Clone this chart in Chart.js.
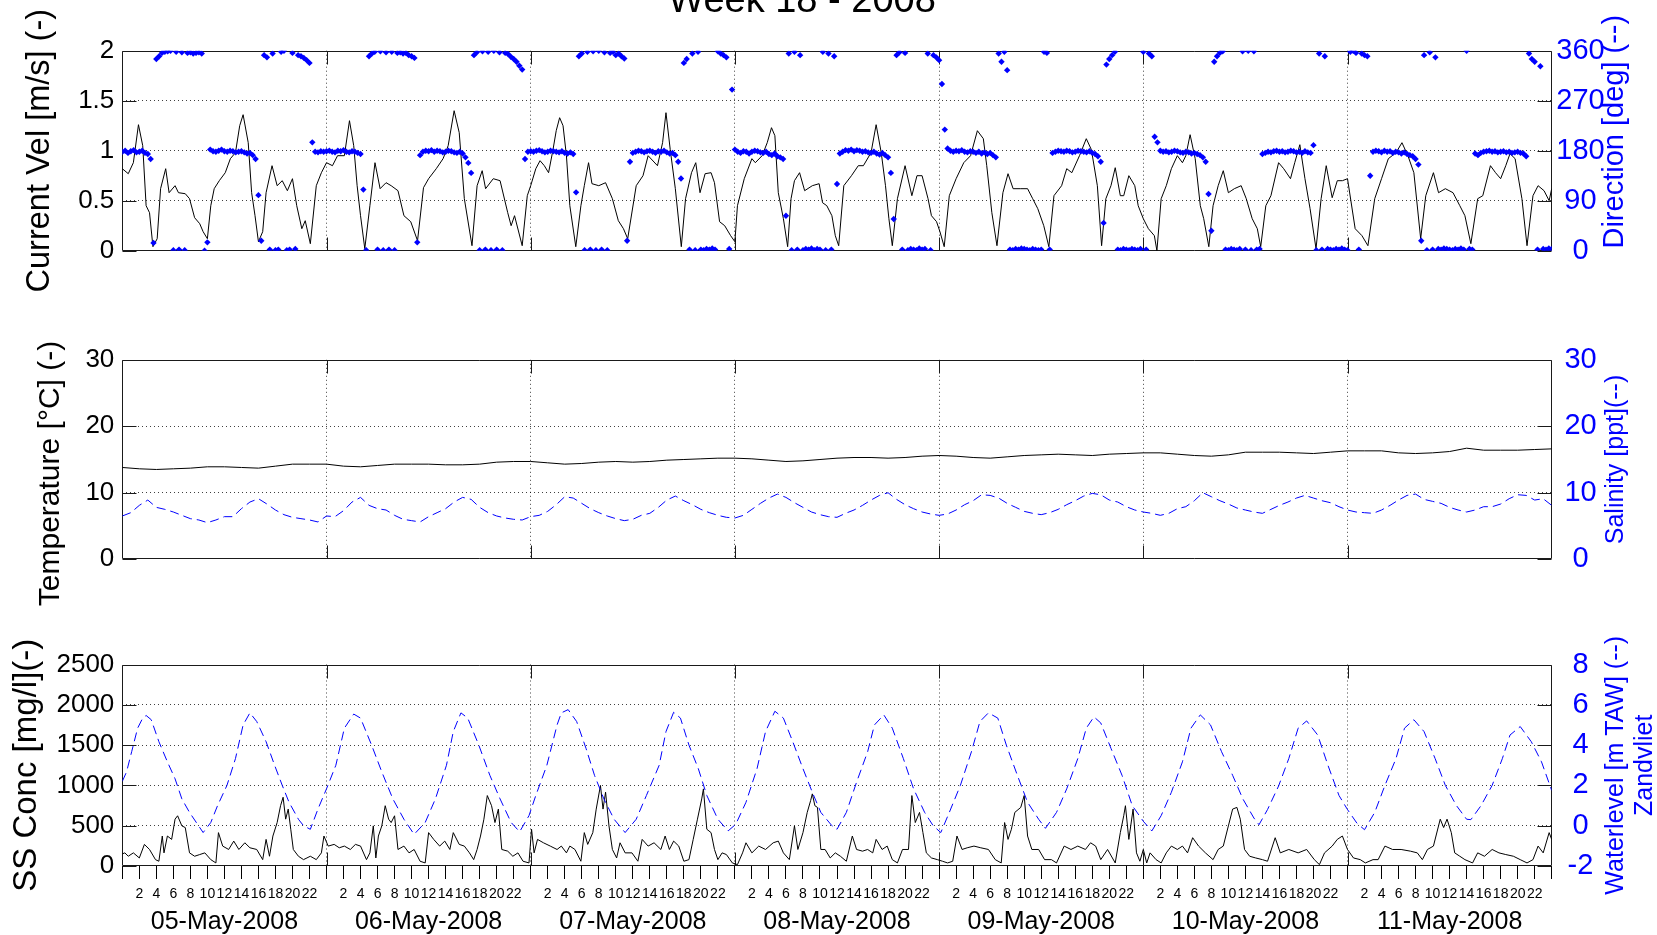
<!DOCTYPE html>
<html lang="en">
<head>
<meta charset="UTF-8">
<title>Week 18 - 2008</title>
<script src="https://cdn.jsdelivr.net/npm/chart.js"></script>
<style>
  html, body { margin: 0; padding: 0; background: #fff; overflow: hidden; }
  body { width: 1657px; height: 935px; position: relative; }
  canvas { position: absolute; left: 0; }
</style>
</head>
<body>
<canvas id="velChart" width="1657" height="305" style="top:0px"></canvas>
<canvas id="tempChart" width="1657" height="305" style="top:305px"></canvas>
<canvas id="ssChart" width="1657" height="325" style="top:610px"></canvas>
<script>
// ---- data (hours since 05-May-2008 00:00) ----
const dateLabels = ['05-May-2008', '06-May-2008', '07-May-2008', '08-May-2008', '09-May-2008', '10-May-2008', '11-May-2008'];
const dateTickHours = [12, 36, 60, 84, 108, 132, 156];
const dayBoundaries = [24, 48, 72, 96, 120, 144];

// current velocity [m/s], [hour, value]
const currentVel = [
  [0,0.82],[0.7,0.77],[1.3,0.88],[1.9,1.26],[2.4,1.05],[2.8,0.45],[3.2,0.38],[3.6,0.04],[4.1,0.12],[4.5,0.62],[5.1,0.82],[5.5,0.58],[6.2,0.65],[6.6,0.58],[7.4,0.57],[7.9,0.52],[8.5,0.33],[9.1,0.27],[9.5,0.19],[10.0,0.12],[10.4,0.45],[10.8,0.62],[11.4,0.70],[12.1,0.78],[12.7,0.92],[13.3,0.98],[13.8,1.25],[14.2,1.36],[14.8,1.08],[15.2,0.58],[15.6,0.35],[16.0,0.09],[16.5,0.19],[16.9,0.58],[17.6,0.85],[18.2,0.65],[18.8,0.70],[19.4,0.60],[20.0,0.72],[20.5,0.45],[21.1,0.22],[21.5,0.30],[22.1,0.07],[22.8,0.65],[23.4,0.78],
  [24.0,0.88],[24.7,0.85],[25.3,0.95],[26.1,0.95],[26.7,1.30],[27.2,1.05],[27.6,0.65],[28.0,0.35],[28.5,0.02],[29.1,0.45],[29.7,0.88],[30.3,0.62],[31.0,0.68],[31.6,0.65],[32.4,0.60],[33.1,0.35],[33.9,0.29],[34.7,0.10],[35.4,0.63],[36.0,0.72],[36.9,0.82],[37.7,0.92],[38.3,1.05],[39.0,1.40],[39.6,1.18],[40.2,0.52],[41.1,0.05],[41.7,0.65],[42.3,0.80],[42.7,0.62],[43.6,0.72],[44.4,0.70],[45.3,0.38],[45.7,0.25],[46.1,0.35],[47.0,0.05],[47.6,0.55],
  [48.0,0.65],[48.6,0.82],[49.1,0.90],[49.6,0.85],[50.1,0.78],[50.6,1.00],[51.0,1.20],[51.4,1.33],[51.8,1.25],[52.2,0.95],[52.6,0.45],[53.3,0.04],[53.9,0.45],[54.3,0.65],[54.8,0.88],[55.2,0.67],[56.0,0.65],[56.8,0.68],[57.6,0.52],[58.3,0.30],[58.9,0.22],[59.4,0.12],[60.4,0.65],[61.2,0.75],[61.8,0.95],[62.9,0.85],[63.5,1.08],[63.9,1.38],[64.4,1.01],[65.0,0.62],[65.7,0.04],[66.2,0.52],[66.9,0.78],[67.4,0.88],[67.9,0.58],[68.5,0.77],[69.2,0.78],[69.6,0.68],[70.2,0.29],[70.8,0.25],[71.5,0.15],
  [72.0,0.09],[72.3,0.45],[73.1,0.72],[74.0,0.92],[74.4,0.88],[75.2,0.95],[75.8,1.08],[76.3,1.23],[76.7,1.15],[77.1,0.58],[77.7,0.32],[78.2,0.04],[78.6,0.52],[79.0,0.70],[79.6,0.78],[80.2,0.60],[81.1,0.65],[81.9,0.67],[82.3,0.48],[82.8,0.45],[83.4,0.35],[83.8,0.15],[84.2,0.05],[84.8,0.65],[85.7,0.75],[86.5,0.85],[87.1,0.85],[88.0,0.98],[88.6,1.26],[89.2,0.98],[89.7,0.65],[90.1,0.32],[90.5,0.05],[91.1,0.52],[92.0,0.85],[92.8,0.55],[93.4,0.75],[94.0,0.75],[94.7,0.52],[95.1,0.35],[95.7,0.29],
  [96.1,0.19],[96.6,0.04],[97.2,0.55],[98.0,0.72],[98.9,0.88],[99.7,0.95],[100.5,1.20],[101.2,1.12],[101.6,0.85],[102.2,0.38],[102.8,0.05],[103.5,0.58],[104.1,0.77],[104.7,0.62],[105.6,0.62],[106.4,0.62],[107.0,0.52],[107.6,0.42],[108.3,0.25],[108.9,0.04],[109.5,0.55],[110.4,0.65],[111.0,0.82],[111.6,0.78],[112.5,0.95],[113.3,1.12],[113.9,1.01],[114.6,0.65],[115.1,0.05],[115.6,0.52],[116.2,0.65],[116.7,0.83],[117.3,0.55],[117.7,0.55],[118.3,0.75],[119.0,0.65],[119.4,0.45],
  [120.0,0.32],[120.6,0.22],[121.3,0.15],[121.6,0.0],[122.1,0.52],[122.7,0.65],[123.3,0.82],[124.0,0.95],[124.6,0.88],[125.0,0.95],[125.5,1.16],[126.1,0.92],[126.7,0.45],[127.1,0.32],[127.7,0.04],[128.2,0.45],[128.8,0.65],[129.4,0.80],[130.0,0.58],[130.7,0.62],[131.5,0.65],[132.1,0.52],[132.8,0.32],[133.4,0.22],[133.8,0.04],[134.4,0.45],[135.0,0.55],[135.9,0.88],[136.5,0.82],[137.3,0.72],[137.8,0.88],[138.4,1.06],[139.0,0.72],[139.6,0.42],[140.3,0.02],[140.9,0.52],[141.5,0.85],[142.2,0.53],[142.8,0.70],[143.4,0.70],
  [144.0,0.72],[144.9,0.22],[145.7,0.15],[146.4,0.05],[147.2,0.52],[148.0,0.72],[148.8,0.92],[149.7,0.98],[150.4,1.08],[151.1,0.95],[151.8,0.78],[152.6,0.12],[153.2,0.55],[154.1,0.78],[154.7,0.58],[155.5,0.62],[156.4,0.58],[157.2,0.45],[157.8,0.35],[158.5,0.07],[159.3,0.52],[159.9,0.55],[160.8,0.85],[161.4,0.78],[162.0,0.72],[162.6,0.85],[163.1,0.97],[163.7,0.92],[164.5,0.52],[165.1,0.05],[165.8,0.55],[166.4,0.65],[167.1,0.60],[167.7,0.50],[168.0,0.62]
];

// current direction [deg], one reading every 20 minutes
const dirStepHours = 1 / 3;
const dirDeg = [
  178,180,176,179,181,177,178,180,176,174,165,14,345,350,356,358,359,360,1,358,2,357,1,356,357,355,356,357,355,0,15,182,179,178,180,182,179,178,180,179,177,178,179,177,175,176,172,165,100,18,352,348,2,355,1,2,358,360,1,2,356,3,352,350,347,343,338,195,178,177,179,178,
  179,180,178,177,180,179,181,178,177,179,178,176,174,110,1,350,355,358,2,359,1,357,2,358,1,356,357,355,356,352,350,347,15,172,178,180,179,181,178,180,179,177,178,180,179,177,176,178,175,168,158,140,352,357,1,359,2,358,1,360,2,357,1,356,354,349,345,340,333,326,165,178,
  179,178,180,181,179,177,178,180,179,178,177,179,176,175,177,174,105,350,355,1,358,2,359,1,360,2,357,1,356,358,352,355,350,346,18,160,176,178,180,179,177,179,180,178,176,179,178,180,177,175,176,172,160,130,338,345,2,355,1,358,2,1,3,2,4,2,359,355,352,348,3,290,
  182,178,176,179,178,175,178,180,179,177,176,178,174,172,175,170,168,165,63,355,1,358,2,352,1,3,2,4,1,3,2,358,1,355,2,350,120,175,178,181,180,182,179,181,180,178,179,177,176,178,175,173,176,172,168,140,57,352,357,2,356,1,3,2,1,4,2,3,355,1,352,348,
  343,300,218,184,180,178,180,179,181,178,177,179,178,176,178,175,177,174,176,172,168,355,340,358,325,2,1,3,2,4,3,2,1,3,2,1,2,358,356,2,176,178,180,179,178,180,179,177,178,180,179,178,177,179,176,174,170,160,50,335,345,352,358,2,1,3,2,1,3,2,1,3,
  358,2,355,350,205,195,180,178,179,177,178,180,179,177,176,178,177,175,176,174,172,168,160,102,36,340,350,356,359,2,1,3,2,1,3,359,2,360,1,359,2,3,174,176,178,177,179,180,178,179,177,178,180,179,177,178,176,179,177,176,190,1,355,2,350,3,2,1,3,2,4,2,
  1,358,360,356,2,355,352,350,135,178,180,179,177,180,178,179,176,178,177,175,177,174,172,170,165,155,18,352,1,357,2,348,3,2,4,3,2,1,3,2,4,2,360,3,2,175,172,176,178,179,180,178,179,177,178,179,177,178,176,177,178,176,175,170,355,345,340,2,332,3,2,4,
  3
];

// temperature [degC], every 2 hours
const tempStepHours = 2;
const tempC = [
  13.8,13.6,13.5,13.6,13.7,13.9,13.9,13.8,13.7,14.0,14.3,14.3,
  14.3,14.0,13.9,14.1,14.3,14.3,14.3,14.2,14.2,14.3,14.6,14.7,
  14.7,14.5,14.3,14.4,14.6,14.7,14.6,14.7,14.9,15.0,15.1,15.2,
  15.2,15.1,14.9,14.7,14.8,15.0,15.2,15.3,15.3,15.2,15.3,15.5,
  15.6,15.5,15.3,15.2,15.4,15.6,15.7,15.8,15.7,15.6,15.8,15.9,
  16.0,16.0,15.8,15.6,15.5,15.7,16.1,16.1,16.1,16.0,15.9,16.1,
  16.3,16.3,16.3,16.0,15.9,16.0,16.2,16.7,16.4,16.4,16.4,16.5,
  16.6
];

// salinity [ppt], hourly
const salStepHours = 1;
const salinity = [
  6.5,7.0,8.1,8.9,7.8,7.5,7.1,6.6,6.1,5.9,5.5,5.9,6.4,6.4,7.6,8.6,9.1,8.3,7.4,6.7,6.3,6.1,5.9,5.6,
  6.5,6.4,7.3,8.6,9.3,8.1,7.6,7.4,6.6,6.0,5.8,5.6,6.4,7.0,7.6,8.6,9.3,9.0,7.8,7.0,6.5,6.2,6.0,5.9,
  6.4,6.6,7.2,8.2,9.4,9.2,8.4,7.6,7.0,6.5,6.1,5.8,6.0,6.6,6.9,7.8,8.9,9.5,8.8,8.2,7.5,7.0,6.6,6.3,
  6.2,6.6,7.5,8.4,9.2,9.8,9.3,8.5,7.8,7.1,6.7,6.4,6.3,6.9,7.4,8.1,8.9,9.6,10.0,9.0,8.2,7.6,7.1,6.8,
  6.6,6.8,7.4,8.2,8.8,9.7,9.6,9.2,8.4,7.8,7.2,6.9,6.7,7.0,7.5,8.2,8.8,9.5,9.9,9.7,8.9,8.6,7.9,7.4,
  7.1,6.9,6.6,6.9,7.6,7.9,8.8,10.0,9.4,8.8,8.3,7.7,7.4,7.1,6.9,7.5,8.1,8.6,9.2,9.6,9.2,8.8,8.5,7.9,
  7.4,7.1,7.0,6.9,7.4,8.1,8.9,9.6,9.8,9.0,8.7,8.4,7.8,7.4,7.1,7.4,7.9,7.9,8.3,9.1,9.7,9.6,8.9,9.1,
  8.1
];

// suspended sediment concentration [mg/l], [hour, value]
const ssConc = [
  [0,150],[0.3,163],[0.7,121],[1.3,163],[2.0,100],[2.6,268],[3.2,205],[3.9,79],[4.3,59],[4.7,372],[4.9,163],[5.3,372],[5.8,330],[6.2,581],[6.5,623],[7.0,498],[7.4,477],[7.9,163],[8.5,121],[9.1,142],[9.7,163],[10.4,79],[11.0,38],[11.3,414],[11.8,247],[12.5,205],[13.1,309],[13.7,205],[14.4,288],[15.0,226],[15.8,205],[16.5,79],[16.9,330],[17.3,121],[17.7,372],[18.2,539],[18.6,748],[18.9,853],[19.2,581],[19.5,706],[19.8,456],[20.1,205],[20.7,121],[21.3,79],[22.1,121],[22.8,79],[23.4,163],[23.7,372],
  [24.2,247],[24.9,268],[25.5,226],[26.1,247],[26.8,205],[27.4,268],[28.0,247],[28.7,79],[29.1,163],[29.5,498],[29.8,100],[30.1,372],[30.5,498],[30.9,748],[31.3,581],[31.6,539],[32.0,623],[32.4,205],[33.1,247],[33.7,163],[34.3,205],[35.0,59],[35.6,38],[36.0,414],[36.6,330],[37.3,247],[37.9,309],[38.5,205],[38.9,414],[39.6,268],[40.2,247],[40.8,163],[41.3,79],[41.7,205],[42.1,372],[42.5,581],[42.9,874],[43.4,748],[43.8,539],[44.2,706],[44.6,205],[45.3,184],[45.9,121],[46.5,163],[47.1,59],[47.8,38],
  [48.1,456],[48.4,163],[48.8,330],[49.5,288],[50.3,247],[51.1,205],[51.6,247],[52.2,163],[52.6,247],[53.2,205],[53.9,59],[54.3,414],[54.7,268],[55.3,414],[55.7,706],[56.2,999],[56.5,706],[56.8,916],[57.2,498],[57.6,205],[58.1,100],[58.5,288],[59.1,163],[59.9,163],[60.6,59],[61.1,330],[61.8,247],[62.5,288],[63.3,205],[63.8,372],[64.3,205],[64.8,309],[65.4,247],[66.0,59],[66.6,79],[67.1,330],[67.6,581],[68.1,832],[68.3,957],[68.7,456],[69.2,414],[69.6,205],[70.0,79],[70.5,163],[71.0,142],[71.7,38],
  [72.3,17],[72.9,163],[73.3,288],[74.0,163],[74.8,247],[75.6,205],[76.5,288],[77.1,309],[77.7,163],[78.4,79],[79.0,498],[79.4,205],[80.0,414],[80.5,665],[80.9,811],[81.1,895],[81.4,748],[81.7,727],[82.1,205],[82.6,205],[83.2,100],[83.8,163],[84.4,121],[85.1,59],[85.8,372],[86.3,205],[87.0,184],[87.6,205],[88.2,163],[88.6,330],[89.3,205],[89.9,247],[90.5,79],[91.1,38],[91.7,205],[92.4,205],[92.8,874],[93.2,539],[93.7,665],[94.1,414],[94.5,163],[95.1,100],[95.8,79],
  [96.4,59],[97.0,38],[97.6,59],[98.1,372],[98.7,205],[99.3,226],[100.1,247],[100.9,226],[101.8,205],[102.6,79],[103.3,38],[103.7,539],[104.1,330],[104.5,456],[104.9,665],[105.6,727],[106.0,874],[106.4,372],[106.9,205],[107.7,205],[108.4,79],[109.2,79],[109.8,38],[110.7,247],[111.5,205],[112.3,247],[113.2,205],[113.8,288],[114.4,247],[115.0,79],[115.8,205],[116.7,38],[117.3,414],[117.7,623],[117.9,748],[118.3,330],[118.8,706],[119.2,163],[119.6,59],
  [120.0,205],[120.4,38],[120.8,163],[121.5,79],[122.1,38],[122.7,163],[123.3,247],[124.0,205],[124.6,247],[125.2,163],[125.8,351],[126.5,247],[127.3,163],[128.2,79],[128.8,205],[129.4,247],[130.0,498],[130.5,706],[131.0,727],[131.4,581],[131.9,205],[132.5,121],[133.2,100],[134.0,79],[134.6,59],[135.5,351],[136.1,163],[137.1,205],[138.2,163],[139.2,205],[140.1,79],[140.7,17],[141.3,163],[142.2,247],[142.8,330],[143.4,372],
  [144.0,205],[144.7,100],[145.5,79],[146.1,38],[147.0,79],[147.6,79],[148.4,247],[149.3,205],[150.3,205],[151.4,184],[152.2,163],[152.8,79],[153.4,205],[154.1,247],[154.9,581],[155.3,477],[155.7,581],[156.2,414],[156.6,163],[157.2,121],[157.8,79],[158.7,38],[159.3,163],[160.1,121],[161.0,205],[161.8,163],[162.6,142],[163.5,121],[164.3,79],[165.1,38],[165.8,79],[166.4,247],[167.0,163],[167.7,414],[168.0,330]
];

// water level Zandvliet [m TAW], [hour, value]
const waterLevel = [
  [0,2.2],[0.5,2.67],[1.1,3.67],[1.8,4.84],[2.4,5.34],[2.8,5.47],[3.4,5.26],[4.3,4.17],[5.3,3.17],[6.2,2.33],[7.0,1.33],[7.9,0.66],[8.7,0.16],[9.5,-0.34],[10.4,0.16],[11.2,1.0],[12.3,2.0],[13.3,3.33],[14.2,5.0],[15.0,5.6],[15.8,5.17],[16.9,4.17],[17.9,3.0],[18.8,2.0],[19.6,1.16],[20.7,0.32],[21.3,0.0],[22.1,-0.18],[23.0,0.83],
  [24.0,1.83],[25.1,3.0],[26.1,4.84],[27.2,5.54],[28.0,5.34],[29.3,4.0],[30.5,2.67],[31.8,1.33],[33.1,0.32],[34.3,-0.43],[35.6,0.16],[36.8,1.33],[38.1,3.0],[38.9,4.67],[39.8,5.6],[40.6,5.34],[41.9,4.0],[43.2,2.5],[44.4,1.33],[45.7,0.16],[46.7,-0.3],[47.8,0.5],
  [48.6,1.5],[49.9,3.0],[51.1,5.0],[51.6,5.6],[52.4,5.76],[53.4,5.17],[54.5,3.84],[55.5,2.5],[56.6,1.33],[57.8,0.32],[59.1,-0.34],[60.4,0.32],[61.6,1.5],[63.1,3.0],[63.9,4.67],[64.8,5.63],[65.6,5.34],[66.6,4.0],[67.7,2.83],[68.7,1.5],[70.0,0.32],[71.2,-0.26],
  [72.1,0.07],[73.3,1.16],[74.6,2.83],[75.6,4.67],[76.7,5.68],[77.7,5.34],[78.8,4.17],[80.0,2.83],[81.1,1.66],[82.1,0.66],[83.4,0.0],[84.0,-0.18],[85.1,0.66],[86.3,2.16],[87.6,3.67],[88.4,5.0],[89.5,5.5],[90.5,4.84],[91.8,3.33],[93.0,1.83],[94.3,0.66],[95.3,0.0],
  [96.2,-0.34],[97.2,0.66],[98.5,2.0],[99.8,3.67],[100.8,5.17],[101.8,5.6],[102.9,5.34],[103.9,4.0],[105.2,2.5],[106.4,1.16],[107.7,0.32],[108.5,-0.13],[109.8,0.66],[111.0,1.83],[112.3,3.33],[113.3,4.84],[114.2,5.4],[115.0,5.1],[116.2,3.84],[117.5,2.5],[118.7,1.0],
  [120.0,0.22],[121.0,-0.26],[122.1,0.5],[123.3,1.66],[124.6,3.17],[125.6,4.84],[126.7,5.5],[127.9,5.0],[129.2,3.67],[130.5,2.5],[131.7,1.33],[133.0,0.38],[133.6,0.05],[134.6,0.8],[135.9,1.97],[137.1,3.33],[138.2,4.84],[139.2,5.2],[140.5,4.5],[141.7,3.0],[143.0,1.5],
  [144.0,0.8],[145.1,0.13],[146.0,-0.2],[147.2,0.66],[148.4,2.0],[149.7,3.33],[150.7,4.84],[151.8,5.26],[153.0,4.67],[154.3,3.33],[155.5,2.0],[156.8,1.0],[158.0,0.32],[158.5,0.3],[159.7,1.0],[161.0,2.0],[162.2,3.33],[163.1,4.5],[164.3,4.92],[165.6,4.17],[166.8,3.17],[168.0,1.75]
];

// ---- styling / layout ----
const FONT = "'Liberation Sans', Arial, Helvetica, sans-serif";
const BLUE = '#0000ff';
const GRID = 'rgba(0,0,0,0.75)';
const LEFT_W = 122.3;          // left axis box width
const RIGHT_W = 1657 - 1551.7; // right axis box width

Chart.defaults.font.family = FONT;
Chart.defaults.color = '#000';

function vText(ctx, text, x, y, size, color) {
  ctx.save();
  ctx.translate(x, y);
  ctx.rotate(-Math.PI / 2);
  ctx.font = size + 'px ' + FONT;
  ctx.fillStyle = color;
  ctx.textAlign = 'center';
  ctx.textBaseline = 'middle';
  ctx.fillText(text, 0, 0);
  ctx.restore();
}

// MATLAB-like box, inward ticks and axis labels
const axesDeco = {
  id: 'axesDeco',
  beforeDatasetsDraw(chart) {
    const { ctx, chartArea: a, scales } = chart;
    const L = Math.round(a.left) + 0.5, R = Math.round(a.right) - 0.5;
    const T = Math.round(a.top) + 0.5, B = Math.round(a.bottom) - 0.5;
    ctx.save();
    ctx.strokeStyle = '#1a1a1a';
    ctx.lineWidth = 1;
    ctx.beginPath();
    ctx.rect(L, T, R - L, B - T);
    scales.y.ticks.forEach(t => {
      const y = Math.round(scales.y.getPixelForValue(t.value)) + 0.5;
      ctx.moveTo(L, y); ctx.lineTo(L + 14, y);
      ctx.moveTo(R, y); ctx.lineTo(R - 14, y);
    });
    dayBoundaries.forEach(h => {
      const x = Math.round(scales.x.getPixelForValue(h)) + 0.5;
      ctx.moveTo(x, T); ctx.lineTo(x, T + 13);
      ctx.moveTo(x, B); ctx.lineTo(x, B - 13);
    });
    ctx.stroke();
    ctx.restore();
  },
  afterDraw(chart, args, opts) {
    const { ctx, chartArea: a } = chart;
    const midY = (a.top + a.bottom) / 2;
    if (opts.left) vText(ctx, opts.left.text, opts.left.x, midY + (opts.left.dy || 0), opts.left.size, '#000');
    if (opts.right) opts.right.lines.forEach((t, i) =>
      vText(ctx, t, opts.right.x[i], midY + (opts.right.dy || 0), opts.right.size, BLUE));
    if (opts.title) {
      ctx.save();
      ctx.font = opts.title.size + 'px ' + FONT;
      ctx.fillStyle = '#000';
      ctx.textAlign = 'center';
      ctx.textBaseline = 'alphabetic';
      ctx.fillText(opts.title.text, opts.title.x, opts.title.y);
      ctx.restore();
    }
  }
};

const pairs = pts => pts.map(([x, y]) => ({ x, y }));
const stepped = (vals, step) => vals.map((y, i) => ({ x: i * step, y }));

function lineSet(data, color, axis, dashed) {
  return {
    data, yAxisID: axis, borderColor: color, borderWidth: 1,
    borderDash: dashed ? [9, 5] : [], pointRadius: 0, tension: 0, fill: false
  };
}

function dayGridX(height) {
  return {
    type: 'linear', min: 0, max: 168,
    ticks: { stepSize: 24, display: false },
    grid: { color: c => (c.tick && c.tick.value > 0 && c.tick.value < 168) ? GRID : 'transparent', drawTicks: false },
    border: { display: false, dash: [1, 3] },
    afterFit: s => { s.height = height; }
  };
}

function leftY(min, max, step) {
  return {
    position: 'left', min, max,
    ticks: { stepSize: step, font: { size: 26 }, padding: 8, callback: v => String(v) },
    grid: { color: c => (c.tick && c.tick.value > min && c.tick.value < max) ? GRID : 'transparent', drawTicks: false },
    border: { display: false, dash: [1, 3] },
    afterFit: s => { s.width = LEFT_W; }
  };
}

function rightY(min, max, step, pad) {
  return {
    position: 'right', min, max,
    ticks: { stepSize: step, font: { size: 29 }, color: BLUE, padding: pad, crossAlign: 'center', callback: v => String(v) },
    grid: { display: false, drawTicks: false },
    border: { display: false },
    afterFit: s => { s.width = RIGHT_W; }
  };
}

const common = {
  responsive: false, animation: false, devicePixelRatio: 1, events: [],
  plugins: { legend: { display: false }, tooltip: { enabled: false } }
};

// ---- top: current velocity / direction ----
new Chart(document.getElementById('velChart'), {
  type: 'line',
  data: {
    datasets: [
      { data: stepped(dirDeg, dirStepHours), yAxisID: 'y1', showLine: false, pointStyle: 'rectRot',
        pointRadius: 3.2, pointBackgroundColor: BLUE, pointBorderWidth: 0 },
      lineSet(pairs(currentVel), '#000', 'y', false)
    ]
  },
  options: {
    ...common,
    layout: { padding: { top: 50.7, left: 0, right: 0, bottom: 0 } },
    scales: { x: dayGridX(305 - 250.7), y: leftY(0, 2, 0.5), y1: rightY(0, 360, 90, 4.6) },
    plugins: {
      ...common.plugins,
      axesDeco: {
        left: { text: 'Current Vel [m/s] (-)', x: 40, size: 32.5 },
        right: { lines: ['Direction [deg] (--)'], x: [1615], size: 29, dy: -19 },
        title: { text: 'Week 18 - 2008', x: 802, y: 12, size: 38 }
      }
    }
  },
  plugins: [axesDeco]
});

// ---- middle: temperature / salinity ----
new Chart(document.getElementById('tempChart'), {
  type: 'line',
  data: {
    datasets: [
      lineSet(stepped(salinity, salStepHours), BLUE, 'y1', true),
      lineSet(stepped(tempC, tempStepHours), '#000', 'y', false)
    ]
  },
  options: {
    ...common,
    layout: { padding: { top: 359.8 - 305, left: 0, right: 0, bottom: 0 } },
    scales: { x: dayGridX(610 - 559.2), y: leftY(0, 30, 10), y1: rightY(0, 30, 10, 12.7) },
    plugins: {
      ...common.plugins,
      axesDeco: {
        left: { text: 'Temperature [°C] (-)', x: 51, size: 30, dy: 14 },
        right: { lines: ['Salinity [ppt](--)'], x: [1616], size: 25 }
      }
    }
  },
  plugins: [axesDeco]
});

// ---- bottom: SS concentration / water level ----
new Chart(document.getElementById('ssChart'), {
  type: 'line',
  data: {
    datasets: [
      lineSet(pairs(waterLevel), BLUE, 'y1', true),
      lineSet(pairs(ssConc), '#000', 'y', false)
    ]
  },
  options: {
    ...common,
    layout: { padding: { top: 664.5 - 610, left: 0, right: 0, bottom: 0 } },
    scales: {
      x: {
        type: 'linear', min: 0, max: 168, weight: 0,
        ticks: { stepSize: 2, autoSkip: false, maxRotation: 0, font: { size: 14 }, padding: 7,
                 callback: v => (v % 24 === 0 ? '' : String(v % 24)) },
        grid: { color: c => (c.tick && c.tick.value % 24 === 0 && c.tick.value > 0 && c.tick.value < 168) ? GRID : 'transparent',
                tickColor: '#000', tickLength: 13, tickWidth: 1 },
        border: { display: false, dash: [1, 3] },
        afterFit: s => { s.height = 36.3; }
      },
      xd: {
        type: 'linear', position: 'bottom', min: 0, max: 168, weight: 1,
        afterBuildTicks: s => { s.ticks = dateTickHours.map(v => ({ value: v })); },
        ticks: { autoSkip: false, maxRotation: 0, font: { size: 25 }, padding: 4.8,
                 callback: (v, i) => dateLabels[i] },
        grid: { display: false, drawTicks: false },
        border: { display: false },
        afterFit: s => { s.height = 32.7; }
      },
      y: leftY(0, 2500, 500),
      y1: rightY(-2, 8, 2, 15.9)
    },
    plugins: {
      ...common.plugins,
      axesDeco: {
        left: { text: 'SS Conc [mg/l](-)', x: 27, size: 33 },
        right: { lines: ['Waterlevel [m TAW] (--)', 'Zandvliet'], x: [1616, 1645], size: 25 }
      }
    }
  },
  plugins: [axesDeco]
});
</script>
</body>
</html>
